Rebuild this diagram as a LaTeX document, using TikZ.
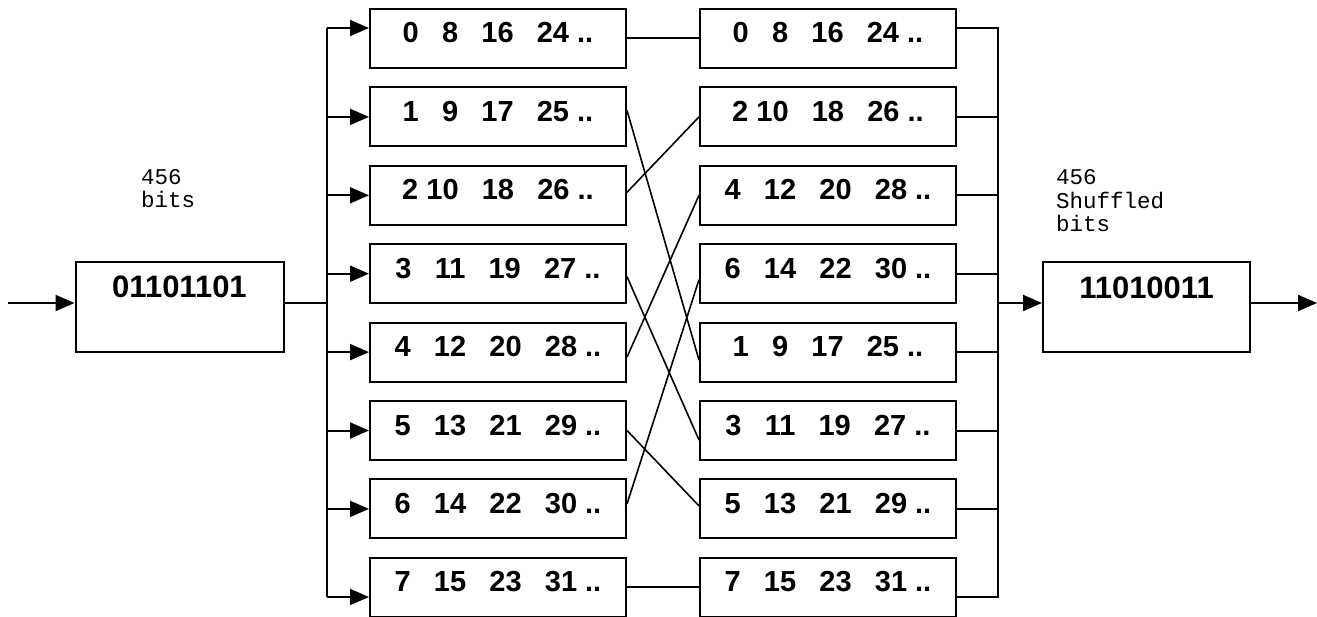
\documentclass[tikz,border=0pt]{standalone}
\usepackage{fontspec}
\setmainfont{Liberation Sans}
\newfontfamily\labmono{Liberation Mono}
\usetikzlibrary{arrows.meta,calc}
\newcommand\gp{\hspace{0.8em}}
\begin{document}
\begin{tikzpicture}[x=1pt,y=-1pt,
 box/.style={draw,line width=2pt,inner sep=0pt,minimum width=256pt,minimum height=59pt,text height=20pt,text depth=11pt,font=\bfseries\fontsize{29}{31}\selectfont},
 bigbox/.style={draw,line width=2pt,inner sep=0pt,minimum width=208pt,minimum height=90pt,text height=22pt,text depth=40pt,font=\bfseries\fontsize{31}{33}\selectfont},
 wire/.style={line width=2pt,line join=miter},
 arr/.style={line width=2pt,-{Triangle[length=19pt,width=16pt]}},
 cross/.style={line width=1.6pt},
 note/.style={align=left,inner sep=0pt,anchor=base west,font=\labmono\fontsize{22.5}{23.5}\selectfont}
]
\useasboundingbox (0,0) rectangle (1317,617);

% input / output boxes
\node[bigbox] (in) at (179.5,307) {01101101};
\node[bigbox,minimum width=207pt] (out) at (1146.5,307.5) {11010011};

% first column
\node[box] (a0) at (498,38.5)  {0\gp8\gp16\gp24 ..};
\node[box] (a1) at (498,116.9) {1\gp9\gp17\gp25 ..};
\node[box] (a2) at (498,195.3) {2 10\gp18\gp26 ..};
\node[box] (a3) at (498,273.7) {3\gp11\gp19\gp27 ..};
\node[box] (a4) at (498,352.1) {4\gp12\gp20\gp28 ..};
\node[box] (a5) at (498,430.5) {5\gp13\gp21\gp29 ..};
\node[box] (a6) at (498,508.9) {6\gp14\gp22\gp30 ..};
\node[box] (a7) at (498,587.3) {7\gp15\gp23\gp31 ..};

% second column
\node[box] (b0) at (828,38.5)  {0\gp8\gp16\gp24 ..};
\node[box] (b1) at (828,116.9) {2 10\gp18\gp26 ..};
\node[box] (b2) at (828,195.3) {4\gp12\gp20\gp28 ..};
\node[box] (b3) at (828,273.7) {6\gp14\gp22\gp30 ..};
\node[box] (b4) at (828,352.1) {1\gp9\gp17\gp25 ..};
\node[box] (b5) at (828,430.5) {3\gp11\gp19\gp27 ..};
\node[box] (b6) at (828,508.9) {5\gp13\gp21\gp29 ..};
\node[box] (b7) at (828,587.3) {7\gp15\gp23\gp31 ..};

% labels (base anchor = last line)
\node[note] (n1) at (141,208) {456\\bits};
\node[note] (n2) at (1056,232) {456\\Shuffled\\bits};

% coordinates
\coordinate (src) at (8,303);
\coordinate (jin) at (327,303);
\coordinate (btop) at (327,28);
\coordinate (bbot) at (327,597);
\coordinate (otop) at (998,28);
\coordinate (obot) at (998,597);
\coordinate (jout) at (998,303);
\coordinate (dst) at (1317,303);

% input side
\draw[arr] (src) -- (in.west |- src);
\draw[wire] (in.east |- jin) -- (jin);
\draw[wire] (btop) -- (bbot);
\draw[arr] (btop) -- (a0.west |- btop);
\foreach \n in {a1,a2,a3,a4,a5,a6}{\draw[arr] (\n.west -| btop) -- (\n.west);}
\draw[arr] (bbot) -- (a7.west |- bbot);

% straight links
\draw[wire] (a0.east) -- (b0.west);
\draw[wire] (a7.east) -- (b7.west);

% crossing links
\draw[cross] ($(a1.east)+(0,-6.5)$) -- ($(b4.west)+(0,8)$);
\draw[cross] ($(a2.east)+(0,-3)$) -- (b1.west);
\draw[cross] ($(a3.east)+(0,3)$) -- ($(b5.west)+(0,9.5)$);
\draw[cross] ($(a4.east)+(0,5)$) -- (b2.west);
\draw[cross] (a5.east) -- ($(b6.west)+(0,-3)$);
\draw[cross] ($(a6.east)+(0,-5)$) -- ($(b3.west)+(0,6)$);

% output side
\draw[wire] (b0.east |- otop) -- (otop) -- (obot) -- (b7.east |- obot);
\foreach \n in {b1,b2,b3,b4,b5,b6}{\draw[wire] (\n.east) -- (\n.east -| otop);}
\draw[arr] (jout) -- (out.west |- jout);
\draw[arr] (out.east |- dst) -- (dst);
\end{tikzpicture}
\end{document}
